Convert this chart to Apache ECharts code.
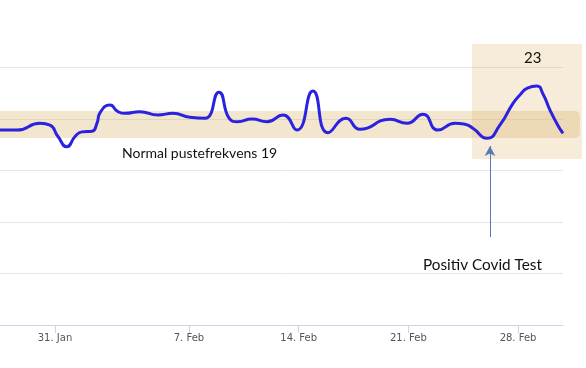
<!DOCTYPE html>
<html><head><meta charset="utf-8">
<script src="https://cdn.jsdelivr.net/npm/echarts@6/dist/echarts.min.js"></script>
<style>html,body{margin:0;padding:0;background:#fff}#c{width:586px;height:368px}</style>
</head><body><div id="c"></div>
<script>
// x = day of February (0 = 31 Jan), y = breaths per minute
const days = [-5.06, -3.98, -2.51, -1.87, -1.36, -0.79, -0.27, 0.17, 0.81, 1.13, 1.32, 1.96, 2.47, 2.92, 3.87, 5.02, 5.98, 7.06, 8.02, 8.91, 9.6, 10.1, 11.02, 11.98, 13.0, 13.89, 14.91, 15.87, 17.02, 17.91, 19.83, 20.91, 21.93, 22.89, 23.98, 24.61, 25.12, 26.02, 26.85, 27.68, 28.12, 28.6, 29.2, 29.6, 30.04, 30.5, 30.87];
const rate = [18.93, 18.93, 19.58, 19.4, 18.3, 17.3, 18.3, 18.75, 18.8, 19.6, 20.6, 21.36, 20.71, 20.55, 20.71, 20.39, 20.55, 20.17, 20.07, 22.6, 20.0, 19.74, 20.0, 19.74, 20.39, 18.93, 22.72, 18.67, 20.07, 19.0, 19.97, 19.58, 20.46, 18.93, 19.58, 19.5, 19.1, 18.13, 19.42, 21.52, 22.33, 23.0, 23.2, 22.4, 20.87, 19.5, 18.6];
const tickDays = [-1.55, 7, 14, 21, 28];
const tickLabels = ['31. Jan', '7. Feb', '14. Feb', '21. Feb', '28. Feb'];
const normalBand = [[-5.06, 18.16], [31.95, 20.78]];
const highlightBox = [[25.06, 16.12], [32.08, 27.28]];
const arrowLine = [[26.21, 8.54], [26.21, 17.38]];
const normalText = 'Normal pustefrekvens 19';
const peakText = '23';
const covidText = 'Positiv Covid Test';

const chart = echarts.init(document.getElementById('c'), null, {renderer: 'canvas'});
const option = {
  animation: false,
  backgroundColor: '#ffffff',
  grid: {left: 0, right: 23, top: 67.5, bottom: 43, containLabel: false, outerBoundsMode: 'none'},
  xAxis: {
    type: 'value', min: days[0], max: days[days.length - 1],
    splitLine: {show: false},
    axisLine: {show: true, lineStyle: {color: '#ccd6eb', width: 1}},
    axisTick: {show: true, customValues: tickDays, length: 8, lineStyle: {color: '#ccd6eb'}},
    axisLabel: {
      show: true, customValues: tickDays, margin: 8,
      color: '#555555', fontFamily: 'DejaVu Sans', fontSize: 10,
      formatter: function (v) { const i = tickDays.indexOf(v); return i >= 0 ? tickLabels[i] : ''; }
    }
  },
  yAxis: {
    type: 'value', min: 0, max: 25, interval: 5,
    axisLine: {show: false}, axisTick: {show: false}, axisLabel: {show: false},
    splitLine: {show: true, lineStyle: {color: '#e6e6e6', width: 1}}
  },
  series: [{
    type: 'line',
    data: days.map((d, i) => [d, rate[i]]),
    smooth: 0.55,
    showSymbol: false,
    z: 5,
    lineStyle: {color: '#2b22e0', width: 3},
    markLine: {
      silent: true,
      symbol: ['none', 'arrow'],
      symbolSize: [8, 10],
      label: {show: false},
      lineStyle: {color: '#5b78b5', width: 1, type: 'solid'},
      data: [[{coord: arrowLine[0]}, {coord: arrowLine[1]}]]
    }
  }]
};
chart.setOption(option);

function px(p) { return chart.convertToPixel({gridIndex: 0}, p); }
const b0 = px(normalBand[0]), b1 = px(normalBand[1]);
const h0 = px(highlightBox[0]), h1 = px(highlightBox[1]);
chart.setOption({
  graphic: [
    {type: 'rect', z: 1, silent: true,
      shape: {x: b0[0], y: b1[1], width: b1[0] - b0[0], height: b0[1] - b1[1], r: [0, 5, 5, 0]},
      style: {fill: 'rgba(220,180,110,0.33)'}},
    {type: 'rect', z: 1, silent: true,
      shape: {x: h0[0], y: h1[1], width: h1[0] - h0[0], height: h0[1] - h1[1]},
      style: {fill: 'rgba(220,180,110,0.26)'}},
    {type: 'text', z: 10, silent: true, x: 122, y: 153,
      style: {text: normalText, fill: '#111111', font: '14px Lato', verticalAlign: 'middle'}},
    {type: 'text', z: 10, silent: true, x: 524, y: 58.5,
      style: {text: peakText, fill: '#111111', font: '15px Lato', verticalAlign: 'middle'}},
    {type: 'text', z: 10, silent: true, x: 423, y: 265,
      style: {text: covidText, fill: '#111111', font: '15.3px Lato', verticalAlign: 'middle'}}
  ]
});
</script>
</body></html>
